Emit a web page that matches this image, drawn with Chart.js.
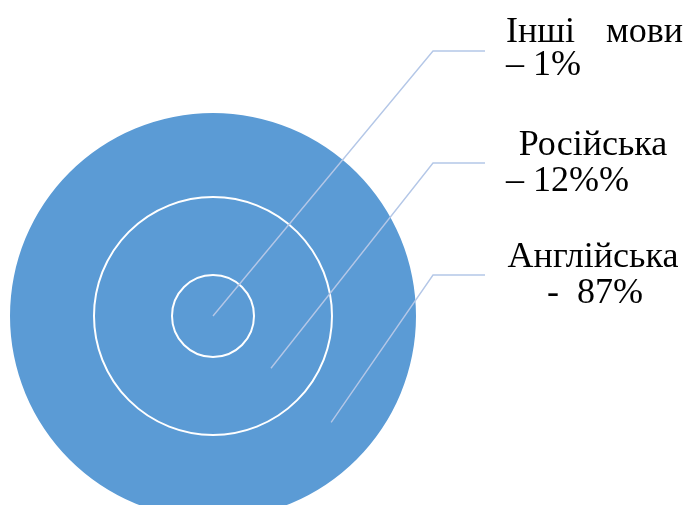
<!DOCTYPE html>
<html lang="uk">
<head>
<meta charset="utf-8">
<title>Мови</title>
<script src="https://cdn.jsdelivr.net/npm/chart.js@4.4.1/dist/chart.umd.min.js"></script>
<style>
  html, body { margin: 0; padding: 0; background: #fff; overflow: hidden; }
  #wrap { width: 689px; height: 505px; overflow: hidden; }
</style>
</head>
<body>
<div id="wrap">
  <canvas id="chart" width="689" height="540"></canvas>
</div>
<script>
// Дані (від зовнішнього кільця до центру)
const movy = ["Англійська", "Російська", "Інші мови"];
const vidsotky = [87, 12, 1];
const pidpysy = ["-  87%", "– 12%%", "– 1%"];

// Товщина кілець (лише оформлення)
const tovshchyna = [84, 78, 41];

const kolir = "#5B9BD5";
const liniya = "#B4C7E7";

// Білі межі між кільцями (без радіального шва)
const mezhiPlugin = {
  id: "mezhi",
  afterDatasetsDraw(chart) {
    const ctx = chart.ctx;
    ctx.save();
    ctx.strokeStyle = "#ffffff";
    ctx.lineWidth = 2;
    chart.data.datasets.forEach((ds, i) => {
      if (i === 0) return;
      const arc = chart.getDatasetMeta(i).data[0];
      if (!arc) return;
      ctx.beginPath();
      ctx.arc(arc.x, arc.y, arc.outerRadius, 0, Math.PI * 2);
      ctx.stroke();
    });
    ctx.restore();
  },
};

// Виноски та підписи
const vynoskyPlugin = {
  id: "vynosky",
  afterDraw(chart) {
    const ctx = chart.ctx;
    const kut = (42 * Math.PI) / 180;
    const lamani = [
      { x: 433, y: 275 },
      { x: 433, y: 163 },
      { x: 433, y: 51 },
    ];
    ctx.save();
    ctx.strokeStyle = liniya;
    ctx.lineWidth = 1.4;
    chart.data.datasets.forEach((ds, i) => {
      const arc = chart.getDatasetMeta(i).data[0];
      if (!arc) return;
      const r = arc.innerRadius ? (arc.innerRadius + arc.outerRadius) / 2 - 2 : 0;
      const x0 = arc.x + r * Math.cos(kut);
      const y0 = arc.y + r * Math.sin(kut);
      ctx.beginPath();
      ctx.moveTo(x0, y0);
      ctx.lineTo(lamani[i].x, lamani[i].y);
      ctx.lineTo(485, lamani[i].y);
      ctx.stroke();
    });

    ctx.fillStyle = "#000";
    ctx.font = '36px "Liberation Serif", "Times New Roman", serif';
    ctx.textBaseline = "alphabetic";

    // Інші мови
    const [inshi, movyWord] = movy[2].split(" ");
    ctx.textAlign = "left";
    ctx.fillText(inshi, 506, 42);
    ctx.textAlign = "right";
    ctx.fillText(movyWord, 683, 42);
    ctx.textAlign = "left";
    ctx.fillText(pidpysy[2], 506, 75);

    // Російська
    ctx.textAlign = "center";
    ctx.fillText(movy[1], 593, 155);
    ctx.textAlign = "left";
    ctx.fillText(pidpysy[1], 506, 191);

    // Англійська
    ctx.textAlign = "center";
    ctx.fillText(movy[0], 593, 267);
    ctx.fillText(pidpysy[0], 595, 303);
    ctx.restore();
  },
};

new Chart(document.getElementById("chart"), {
  type: "doughnut",
  data: {
    labels: movy,
    datasets: movy.map((m, i) => ({
      label: m,
      data: [vidsotky[i]],
      weight: tovshchyna[i],
      backgroundColor: kolir,
      borderWidth: 0,
      hoverOffset: 0,
    })),
  },
  options: {
    responsive: false,
    animation: false,
    cutout: 0,
    radius: 203,
    layout: { padding: { left: 0, right: 263, top: 112, bottom: 20 } },
    plugins: {
      legend: { display: false },
      tooltip: { enabled: false },
    },
  },
  plugins: [mezhiPlugin, vynoskyPlugin],
});
</script>
</body>
</html>
